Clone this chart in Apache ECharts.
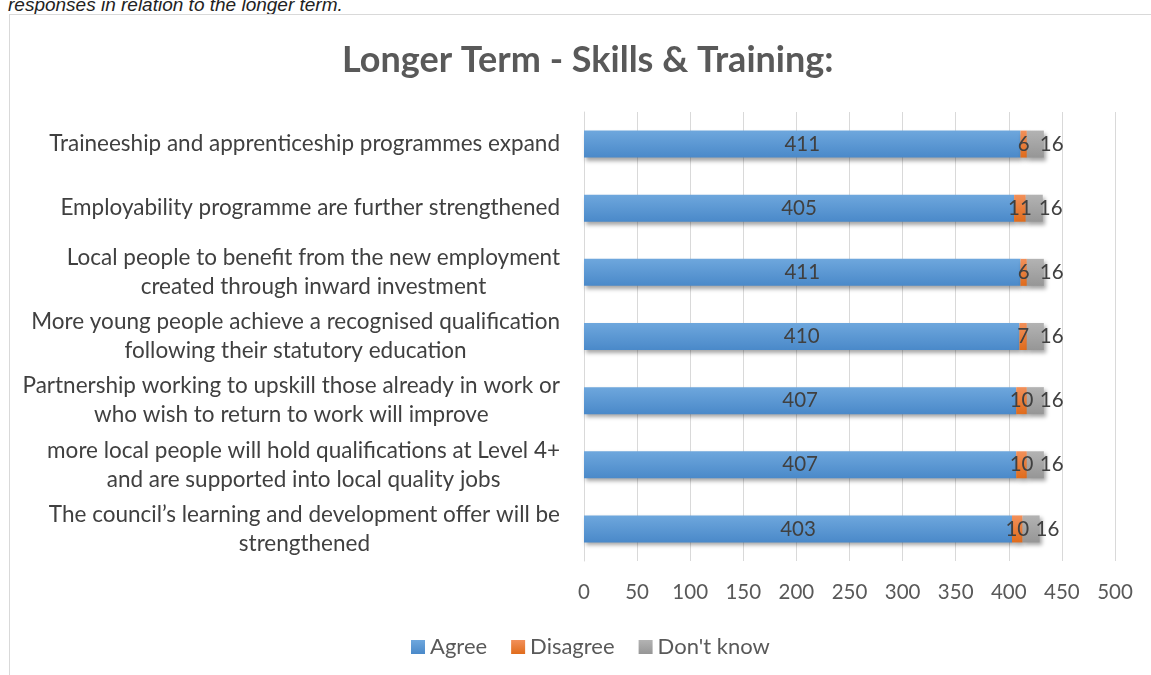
<!DOCTYPE html>
<html>
<head>
<meta charset="utf-8">
<script src="https://cdn.jsdelivr.net/npm/echarts@6/dist/echarts.min.js"></script>
<style>
  html, body { margin: 0; padding: 0; background: #fff; overflow: hidden; }
  #caption {
    position: absolute; left: 8px; top: -5px;
    font: italic 19px "Liberation Sans", Arial, sans-serif; color: #222; line-height: 19px;
    white-space: nowrap;
  }
  #frame {
    position: absolute; left: 9px; top: 14px; width: 1200px; height: 700px;
    border: 1px solid #d9d9d9; pointer-events: none;
  }
  #chart { position: absolute; left: 0; top: 0; width: 1151px; height: 675px; }
</style>
</head>
<body>
<div id="caption">responses in relation to the longer term.</div>
<div id="frame"></div>
<div id="chart"></div>
<script>
// categories, top to bottom as in the picture
const categories = [
  'Traineeship and apprenticeship programmes expand',
  'Employability programme are further strengthened',
  'Local people to benefit from the new employment\ncreated through inward investment',
  'More young people achieve a recognised qualification\nfollowing their statutory education',
  'Partnership working to upskill those already in work or\nwho wish to return to work will improve',
  'more local people will hold qualifications at Level 4+\nand are supported into local quality jobs',
  'The council\u2019s learning and development offer will be\nstrengthened'
];
const agree = [411, 405, 411, 410, 407, 407, 403];
const disagree = [6, 11, 6, 7, 10, 10, 10];
const dontKnow = [16, 16, 16, 16, 16, 16, 16];
const xTicks = [0, 50, 100, 150, 200, 250, 300, 350, 400, 450, 500];

const font = 'Lato, "Open Sans", sans-serif';
const txt = '#404040';

function grad(top, bottom) {
  return new echarts.graphic.LinearGradient(0, 0, 0, 1, [
    { offset: 0, color: top },
    { offset: 1, color: bottom }
  ]);
}

const shadow = {
  shadowColor: 'rgba(0,0,0,0.35)',
  shadowBlur: 4,
  shadowOffsetX: 2,
  shadowOffsetY: 3
};

const myChart = echarts.init(document.getElementById('chart'));

myChart.setOption({
  animation: false,
  title: {
    text: 'Longer Term - Skills & Training:',
    left: 337,
    top: 37,
    textStyle: { fontFamily: font, fontWeight: 'bold', fontSize: 36, color: '#595959' }
  },
  legend: {
    bottom: 12,
    left: 406,
    itemWidth: 14,
    itemHeight: 14,
    itemGap: 24,
    icon: 'rect',
    textStyle: { fontFamily: font, fontSize: 22, color: '#595959' },
    data: ['Agree', 'Disagree', "Don't know"]
  },
  grid: { left: 584, right: 36, top: 112, bottom: 114 },
  xAxis: {
    type: 'value',
    min: xTicks[0],
    max: xTicks[xTicks.length - 1],
    interval: 50,
    axisLine: { show: false },
    axisTick: { show: false },
    splitLine: { lineStyle: { color: '#d9d9d9', width: 1 } },
    axisLabel: { fontFamily: font, fontSize: 20.5, color: '#595959', margin: 21 }
  },
  yAxis: {
    type: 'category',
    inverse: true,
    data: categories,
    axisLine: { show: true, lineStyle: { color: '#d9d9d9' } },
    axisTick: { show: false },
    axisLabel: {
      margin: 24,
      lineHeight: 29,
      formatter: v => v.split('\n').map(l => '{c|' + l + '}').join('\n'),
      rich: {
        c: { align: 'center', fontFamily: font, fontSize: 22.5, color: txt, lineHeight: 29 }
      }
    }
  },
  series: [
    {
      name: 'Agree',
      type: 'bar',
      stack: 'all',
      barWidth: 27,
      data: agree,
      itemStyle: Object.assign({ color: grad('#6ea7dd', '#4a89c9') }, shadow),
      label: { show: true, position: 'inside', fontFamily: font, fontSize: 20.5, color: txt }
    },
    {
      name: 'Disagree',
      type: 'bar',
      stack: 'all',
      data: disagree,
      itemStyle: Object.assign({ color: grad('#f2905a', '#e06c1c') }, shadow),
      label: { show: true, position: 'inside', fontFamily: font, fontSize: 20.5, color: txt }
    },
    {
      name: "Don't know",
      type: 'bar',
      stack: 'all',
      data: dontKnow,
      itemStyle: Object.assign({ color: grad('#b3b3b3', '#969696') }, shadow),
      label: { show: true, position: 'right', distance: -4, fontFamily: font, fontSize: 20.5, color: txt }
    }
  ]
});
</script>
</body>
</html>
